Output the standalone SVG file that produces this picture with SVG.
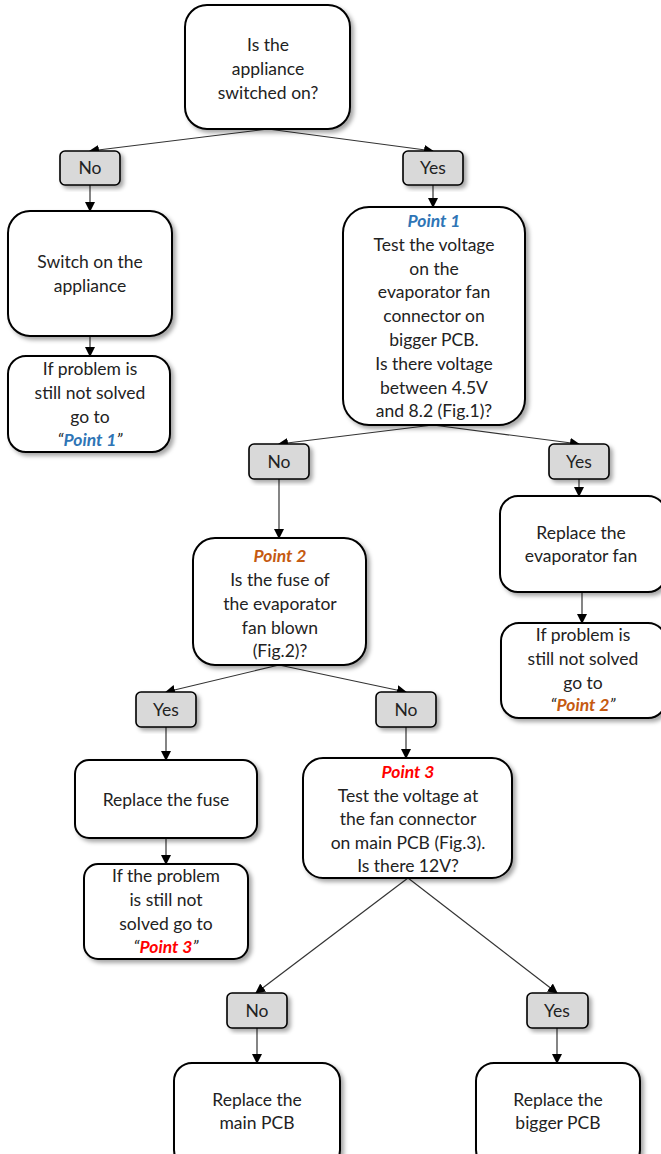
<svg xmlns="http://www.w3.org/2000/svg" width="661" height="1154" viewBox="0 0 661 1154">
<defs>
<filter id="sh" x="-10%" y="-10%" width="130%" height="130%">
<feDropShadow dx="3" dy="3" stdDeviation="2" flood-color="#000" flood-opacity="0.35"/>
</filter>
<marker id="ah" markerWidth="10" markerHeight="10" refX="9" refY="5" orient="auto" markerUnits="userSpaceOnUse">
<path d="M0,0 L10,5 L0,10 Z" fill="#000"/>
</marker>
<style>
.box{fill:#fff;stroke:#000;stroke-width:2;filter:url(#sh)}
.lab{fill:#d9d9d9;stroke:#000;stroke-width:1.6;filter:url(#sh)}
text{font-family:Lato,"Open Sans","Liberation Sans",sans-serif;font-size:17.5px;fill:#222;text-anchor:middle}
.p1{fill:#2e75b6;font-weight:bold;font-style:italic}
.p2{fill:#c55a11;font-weight:bold;font-style:italic}
.p3{fill:#ff0000;font-weight:bold;font-style:italic}
.q{font-style:italic}
.c{stroke:#333;stroke-width:1.2;fill:none;marker-end:url(#ah)}
</style>
</defs>
<g id="connectors">
<line class="c" x1="268" y1="129" x2="90" y2="151"/>
<line class="c" x1="268" y1="129" x2="433" y2="151"/>
<line class="c" x1="90" y1="185" x2="90" y2="211"/>
<line class="c" x1="90" y1="336" x2="90" y2="356"/>
<line class="c" x1="433" y1="185" x2="433" y2="207"/>
<line class="c" x1="433" y1="425" x2="279" y2="444"/>
<line class="c" x1="433" y1="425" x2="579" y2="444"/>
<line class="c" x1="279" y1="479" x2="279" y2="538"/>
<line class="c" x1="579" y1="479" x2="579" y2="496"/>
<line class="c" x1="582" y1="592" x2="582" y2="623"/>
<line class="c" x1="279" y1="665" x2="166" y2="692"/>
<line class="c" x1="279" y1="665" x2="406" y2="692"/>
<line class="c" x1="166" y1="727" x2="166" y2="760"/>
<line class="c" x1="166" y1="838" x2="166" y2="864"/>
<line class="c" x1="406" y1="727" x2="406" y2="758"/>
<line class="c" x1="408" y1="878" x2="256" y2="993"/>
<line class="c" x1="408" y1="878" x2="557" y2="993"/>
<line class="c" x1="257" y1="1028" x2="257" y2="1063"/>
<line class="c" x1="557" y1="1028" x2="557" y2="1063"/>
</g>
<g id="n_start">
<rect class="box" x="185" y="5" width="165" height="124" rx="22"/>
<text x="268" y="51">Is the</text>
<text x="268" y="75">appliance</text>
<text x="268" y="99">switched on?</text>
</g>
<g id="l_no1"><rect class="lab" x="60" y="151" width="60" height="34" rx="5"/><text x="90" y="174">No</text></g>
<g id="l_yes1"><rect class="lab" x="403" y="151" width="60" height="34" rx="5"/><text x="433" y="174">Yes</text></g>
<g id="n_switch">
<rect class="box" x="8" y="211" width="164" height="125" rx="22"/>
<text x="90" y="268">Switch on the</text>
<text x="90" y="292">appliance</text>
</g>
<g id="n_goto1">
<rect class="box" x="8" y="356" width="162" height="96" rx="18"/>
<text x="90" y="375">If problem is</text>
<text x="90" y="399">still not solved</text>
<text x="90" y="423">go to</text>
<text x="90" y="446"><tspan class="q">“</tspan><tspan class="p1">Point 1</tspan><tspan class="q">”</tspan></text>
</g>
<g id="n_point1">
<rect class="box" x="343" y="207" width="182" height="218" rx="26"/>
<text class="p1" x="434" y="227">Point 1</text>
<text x="434" y="251">Test the voltage</text>
<text x="434" y="275">on the</text>
<text x="434" y="298">evaporator fan</text>
<text x="434" y="322">connector on</text>
<text x="434" y="346">bigger PCB.</text>
<text x="434" y="370">Is there voltage</text>
<text x="434" y="394">between 4.5V</text>
<text x="434" y="417">and 8.2 (Fig.1)?</text>
</g>
<g id="l_no2"><rect class="lab" x="249" y="444" width="60" height="35" rx="5"/><text x="279" y="468">No</text></g>
<g id="l_yes2"><rect class="lab" x="549" y="444" width="60" height="35" rx="5"/><text x="579" y="468">Yes</text></g>
<g id="n_point2">
<rect class="box" x="193" y="538" width="173" height="127" rx="22"/>
<text class="p2" x="280" y="562">Point 2</text>
<text x="280" y="586">Is the fuse of</text>
<text x="280" y="610">the evaporator</text>
<text x="280" y="634">fan blown</text>
<text x="280" y="657">(Fig.2)?</text>
</g>
<g id="n_evapfan">
<rect class="box" x="500" y="496" width="166" height="96" rx="18"/>
<text x="581" y="539">Replace the</text>
<text x="581" y="562">evaporator fan</text>
</g>
<g id="n_goto2">
<rect class="box" x="501" y="623" width="165" height="95" rx="18"/>
<text x="583" y="641">If problem is</text>
<text x="583" y="665">still not solved</text>
<text x="583" y="689">go to</text>
<text x="583" y="711"><tspan class="q">“</tspan><tspan class="p2">Point 2</tspan><tspan class="q">”</tspan></text>
</g>
<g id="l_yes3"><rect class="lab" x="136" y="692" width="60" height="35" rx="5"/><text x="166" y="716">Yes</text></g>
<g id="l_no3"><rect class="lab" x="376" y="692" width="60" height="35" rx="5"/><text x="406" y="716">No</text></g>
<g id="n_fuse">
<rect class="box" x="75" y="760" width="182" height="78" rx="14"/>
<text x="166" y="806">Replace the fuse</text>
</g>
<g id="n_goto3">
<rect class="box" x="84" y="864" width="164" height="95" rx="14"/>
<text x="166" y="882">If the problem</text>
<text x="166" y="906">is still not</text>
<text x="166" y="930">solved go to</text>
<text x="166" y="953"><tspan class="q">“</tspan><tspan class="p3">Point 3</tspan><tspan class="q">”</tspan></text>
</g>
<g id="n_point3">
<rect class="box" x="303" y="758" width="209" height="120" rx="20"/>
<text class="p3" x="408" y="778">Point 3</text>
<text x="408" y="802">Test the voltage at</text>
<text x="408" y="825">the fan connector</text>
<text x="408" y="849">on main PCB (Fig.3).</text>
<text x="408" y="872">Is there 12V?</text>
</g>
<g id="l_no4"><rect class="lab" x="227" y="993" width="60" height="35" rx="5"/><text x="257" y="1017">No</text></g>
<g id="l_yes4"><rect class="lab" x="527" y="993" width="61" height="35" rx="5"/><text x="557" y="1017">Yes</text></g>
<g id="n_mainpcb">
<rect class="box" x="174" y="1063" width="166" height="105" rx="18"/>
<text x="257" y="1106">Replace the</text>
<text x="257" y="1129">main PCB</text>
</g>
<g id="n_biggerpcb">
<rect class="box" x="476" y="1063" width="164" height="105" rx="18"/>
<text x="558" y="1106">Replace the</text>
<text x="558" y="1129">bigger PCB</text>
</g>
</svg>
